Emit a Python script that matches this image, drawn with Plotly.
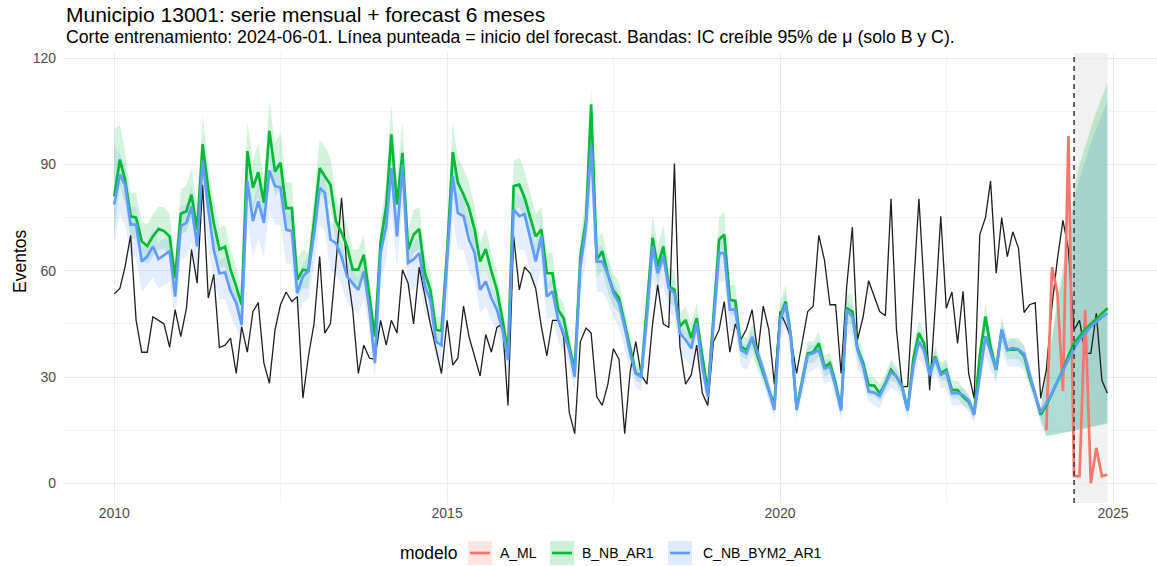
import pandas as pd
import plotly.graph_objects as go

# ---------------- data ----------------
months = pd.date_range("2010-01-01", "2024-12-01", freq="MS")

observed = [
    53.5, 55, 61, 70, 46, 37, 37, 47, 46, 45, 38.4, 49,
    41.4, 49.4, 66, 56.5, 84.3, 52.3, 59, 38.3, 39, 41, 31, 44.2,
    37, 48.5, 51, 33.9, 28.2, 43.3, 50.4, 54, 51.3, 52.7, 24, 35.8,
    45, 64, 42.4, 45, 62, 80.6, 60.3, 49, 31, 39, 35.3, 35,
    46, 39, 46, 42.4, 60.3, 56.5, 45, 61, 53, 45, 38, 31,
    46, 33.4, 35.3, 50, 41.4, 35.8, 30.3, 42, 37, 44, 45, 22,
    69.7, 54.6, 61, 59.3, 55, 44.2, 36, 46, 46, 41.4, 20, 14,
    40, 43.8, 42.4, 24.4, 22, 28, 38, 35, 14, 31.5, 40, 30.6,
    28, 45, 56, 45, 44, 90.3, 38.6, 28, 30.6, 39, 25.4, 22,
    40, 43.3, 51.3, 37, 45, 40.6, 43.5, 49, 36.7, 50, 43.3, 28,
    48.5, 45, 41, 31, 39.5, 48.5, 50, 70, 63, 50.4, 50.4, 31,
    55.6, 72.3, 40.5, 47, 57.2, 52.7, 48.5, 47.3, 80.3, 43.3, 27.3, 27.3,
    53.7, 80.3, 55.6, 26.3, 49.4, 75.4, 49.4, 54, 39.5, 54.2, 31, 24,
    70.2, 75, 85.3, 59.3, 75, 64, 71, 66.4, 48.2, 50.4, 51, 24,
    32, 50, 63, 74.2, 66, 43.3, 46, 36.7, 36.7, 48, 29, 25.4,
]

b_nb_ar1 = [
    81, 91.4, 85.8, 75.4, 75, 68.3, 67, 69.7, 71.8, 71.2, 69.7, 57.9,
    76.1, 76.8, 81.5, 71.6, 95.7, 82.9, 73.5, 66, 66.8, 60.3, 55.6, 50.4,
    93.8, 83.4, 87.8, 79.2, 99.5, 88, 90.5, 77.7, 77.7, 57.5, 60.3, 60,
    74, 89, 86.7, 84.3, 74, 70.7, 66.9, 60.3, 60.3, 64.5, 52.7, 41.4,
    68, 78.2, 98.5, 78.7, 93.3, 66, 70.2, 71.8, 59.3, 54.6, 43.3, 43,
    65, 93.5, 84.8, 81.5, 77.7, 71.6, 62.6, 66.1, 59.8, 54.6, 46.1, 36.7,
    83.9, 84.3, 80.6, 74.9, 69.7, 71.6, 59.3, 59.3, 49, 46.6, 38.6, 32,
    64, 74.4, 107, 63.1, 65.5, 58.9, 54.4, 52.3, 45.2, 37.6, 31, 30.6,
    50, 69.3, 61.2, 66.9, 55.6, 54.6, 44.2, 46.1, 41, 46.6, 35.8, 25.9,
    47, 68.8, 70.2, 51.8, 51.5, 38.6, 37.6, 41, 35.8, 31, 26.3, 22,
    47.1, 51.3, 41.4, 21.1, 29.2, 36.7, 37, 39.5, 32.9, 33.9, 28.2, 21.1,
    49.4, 48.5, 38.1, 34, 27.7, 27.6, 25.4, 28.2, 32, 30.1, 27.3, 20.7,
    35, 42.4, 39.5, 31, 35.8, 31, 32, 26.3, 26.3, 24.4, 23, 19.7,
    36, 47.1, 38.5, 32, 43.3, 37.6, 37.8, 37.7, 36, 30, 25, 19.3,
    22, 25.5, 29, 32, 36, 39.5, 41.5, 43.5, 45, 46.5, 48, 49.4,
]
b_lo = [
    70, 84, 79, 69, 69, 63, 62, 64, 66, 66, 64, 53,
    70, 71, 75, 66, 88, 76, 68, 61, 61, 55, 51, 46,
    86, 77, 81, 73, 92, 81, 83, 71, 71, 53, 55, 55,
    68, 82, 80, 78, 68, 65, 62, 55, 55, 59, 48, 38,
    63, 72, 91, 72, 86, 61, 65, 66, 55, 50, 40, 40,
    60, 86, 78, 75, 71, 66, 58, 61, 55, 50, 42, 34,
    77, 78, 74, 69, 64, 66, 55, 55, 45, 43, 36, 29,
    59, 68, 98, 58, 60, 54, 50, 48, 42, 35, 29, 28,
    46, 64, 56, 62, 51, 50, 41, 42, 38, 43, 33, 24,
    43, 63, 65, 48, 47, 36, 35, 38, 33, 29, 24, 20,
    43, 47, 38, 19, 27, 34, 34, 36, 30, 31, 26, 19,
    45, 45, 35, 31, 25, 25, 23, 26, 29, 28, 25, 19,
    32, 39, 36, 29, 33, 29, 29, 24, 24, 22, 21, 18,
    33, 43, 35, 29, 40, 35, 35, 35, 33, 28, 23, 18,
    13.3, 13.5, 13.8, 14.1, 14.4, 14.8, 15.1, 15.4, 15.8, 16.1, 16.4, 16.8,
]
b_hi = [
    100, 101, 94, 82, 82, 74, 73, 76, 78, 78, 76, 63,
    83, 84, 89, 78, 104, 90, 80, 72, 73, 66, 61, 55,
    102, 91, 96, 86, 108, 96, 99, 85, 85, 63, 66, 65,
    81, 97, 95, 92, 81, 77, 73, 66, 66, 70, 57, 45,
    74, 85, 107, 86, 102, 72, 77, 78, 65, 60, 47, 47,
    71, 102, 92, 89, 85, 78, 68, 72, 65, 60, 50, 40,
    91, 92, 88, 82, 76, 78, 65, 65, 53, 51, 42, 35,
    70, 81, 112, 69, 71, 64, 59, 57, 49, 41, 34, 33,
    55, 76, 67, 73, 61, 60, 48, 50, 45, 51, 39, 28,
    51, 75, 77, 56, 56, 42, 41, 45, 39, 34, 29, 24,
    51, 56, 45, 23, 32, 40, 40, 43, 36, 37, 31, 23,
    54, 53, 42, 37, 30, 30, 28, 31, 35, 33, 30, 23,
    38, 46, 43, 34, 39, 34, 35, 29, 29, 27, 25, 21,
    39, 51, 42, 35, 47, 41, 41, 41, 39, 33, 27, 21,
    31, 42, 52, 61, 71, 83, 90, 95, 100, 105, 109, 113,
]

c_nb_bym2_ar1 = [
    78.7, 87.2, 84.3, 73, 73, 62.6, 64, 66.9, 63.3, 64.5, 65.5, 52.7,
    72.6, 73.5, 78.2, 66.9, 91, 77.3, 66, 59.3, 59.5, 54.2, 50.9, 44.7,
    85.3, 74, 79.6, 73.5, 88.3, 83.9, 83.5, 71.6, 71.2, 53.7, 58.4, 60,
    70, 83.4, 82, 68.8, 67.8, 64, 58.4, 56.5, 54.6, 59.8, 49, 33.9,
    65, 72.6, 89, 69.7, 90, 62.2, 63.2, 65, 55.6, 51.8, 40, 39,
    62, 86.7, 76.3, 75.4, 68.8, 65, 54.6, 57, 52.3, 49, 43.3, 34.8,
    77.3, 75.4, 76, 68.8, 62.6, 69.7, 52.7, 54.2, 46.1, 42.4, 37.6, 30.1,
    61.2, 72.6, 95.2, 62.6, 62.6, 59, 53.7, 50.9, 44.2, 36.7, 31, 30.1,
    47, 66.9, 59.3, 64, 55.1, 53.7, 42.4, 40.5, 38.1, 45.2, 32.9, 24.4,
    45.2, 65, 65, 49, 49, 37.6, 36.7, 41.4, 36.7, 32, 26.3, 20.7,
    46.1, 50.4, 41, 20.7, 28.2, 36.2, 36.7, 37.6, 32.4, 32.9, 27.3, 20.5,
    49, 47, 37.6, 33, 25.9, 25.6, 24.7, 28.2, 31.4, 30.2, 27.2, 20.5,
    33, 40.1, 37.5, 30.5, 35.4, 30.6, 31.4, 25.4, 25.5, 24.9, 23.5, 19.3,
    31, 41.5, 37, 32, 43.4, 37.7, 38.2, 37.8, 36.5, 30.5, 25, 20,
    22.5, 25.5, 28.8, 31.8, 35, 38, 40.5, 42.5, 44.2, 45.6, 46.8, 48,
]
c_lo = [
    68, 76, 73, 64, 64, 54, 56, 58, 55, 56, 57, 46,
    63, 64, 68, 58, 79, 67, 57, 52, 52, 47, 44, 39,
    74, 64, 69, 64, 77, 73, 73, 62, 62, 47, 51, 52,
    61, 73, 71, 60, 59, 56, 51, 49, 48, 52, 43, 29,
    57, 63, 77, 61, 78, 54, 55, 57, 48, 45, 35, 34,
    54, 75, 66, 66, 60, 57, 48, 50, 46, 43, 38, 30,
    67, 66, 66, 60, 54, 61, 46, 47, 40, 37, 33, 26,
    53, 63, 83, 54, 54, 51, 47, 44, 38, 32, 27, 26,
    41, 58, 52, 56, 48, 47, 37, 35, 33, 39, 29, 21,
    39, 57, 57, 43, 43, 33, 32, 36, 32, 28, 23, 18,
    40, 44, 36, 18, 25, 31, 32, 33, 28, 29, 24, 18,
    43, 41, 33, 29, 23, 22, 21, 25, 27, 26, 24, 18,
    29, 35, 33, 27, 31, 27, 27, 22, 22, 22, 20, 17,
    27, 36, 32, 28, 38, 33, 33, 33, 32, 27, 22, 17,
    13.6, 13.8, 14, 14.3, 14.6, 15, 15.3, 15.6, 16, 16.3, 16.6, 17,
]
c_hi = [
    95, 93, 90, 78, 78, 67, 68, 72, 68, 69, 70, 56,
    78, 79, 84, 72, 97, 83, 71, 63, 64, 58, 54, 48,
    91, 79, 85, 79, 94, 90, 89, 77, 76, 57, 62, 64,
    75, 89, 88, 74, 73, 68, 62, 60, 58, 64, 52, 36,
    70, 78, 95, 75, 96, 67, 68, 70, 59, 55, 43, 42,
    66, 93, 82, 81, 74, 70, 58, 61, 56, 52, 46, 37,
    83, 81, 81, 74, 67, 75, 56, 58, 49, 45, 40, 32,
    65, 78, 102, 67, 67, 63, 57, 54, 47, 39, 33, 32,
    50, 72, 63, 68, 59, 57, 45, 43, 41, 48, 35, 26,
    48, 70, 70, 52, 52, 40, 39, 44, 39, 34, 28, 22,
    49, 54, 44, 22, 30, 39, 39, 40, 35, 35, 29, 22,
    52, 50, 40, 35, 28, 27, 26, 30, 34, 32, 29, 22,
    35, 43, 40, 33, 38, 33, 34, 27, 27, 27, 25, 21,
    33, 44, 40, 34, 46, 40, 41, 40, 39, 33, 27, 21,
    30, 40, 50, 59, 68, 80, 86, 91, 96, 100, 104, 108,
]

a_months = pd.date_range("2024-01-01", "2024-12-01", freq="MS")
a_ml = [15, 61, 54, 26, 98, 2, 2, 49, 0, 10, 2, 2.5]

forecast_start = "2024-06-01"
forecast_end = "2024-12-01"
split = 167  # last fitted month before the wide band (2023-12)

# ---------------- styling ----------------
FONT = "Liberation Sans, Arial, Helvetica, sans-serif"
COL_A = "#F8766D"
COL_B = "#00BA38"
COL_C = "#619CFF"
W, H = 1157, 566
ML, MR, MT, MB = 63, 0, 53, 63
PW, PH = W - ML - MR, H - MT - MB


def px(x):
    return (x - ML) / PW


def py(y):
    return (H - MB - y) / PH


fig = go.Figure()


def band(x, lo, hi, color):
    fig.add_trace(go.Scatter(x=x, y=lo, mode="lines", line=dict(width=0),
                             hoverinfo="skip", showlegend=False))
    fig.add_trace(go.Scatter(x=x, y=hi, mode="lines", line=dict(width=0),
                             fill="tonexty", fillcolor=color,
                             hoverinfo="skip", showlegend=False))


tr = slice(0, split + 1)
fc = slice(split, len(months))
band(months[tr], b_lo[tr], b_hi[tr], "rgba(0,186,56,0.17)")
band(months[tr], c_lo[tr], c_hi[tr], "rgba(97,156,255,0.17)")
band(months[fc], b_lo[fc], b_hi[fc], "rgba(0,186,56,0.21)")
band(months[fc], c_lo[fc], c_hi[fc], "rgba(90,160,215,0.24)")

fig.add_trace(go.Scatter(x=months, y=observed, mode="lines",
                         line=dict(color="#1f1f1f", width=1.3),
                         showlegend=False, name="observado"))
fig.add_trace(go.Scatter(x=a_months, y=a_ml, mode="lines",
                         line=dict(color=COL_A, width=2.7),
                         showlegend=False, name="A_ML"))
fig.add_trace(go.Scatter(x=months, y=b_nb_ar1, mode="lines",
                         line=dict(color=COL_B, width=2.7),
                         showlegend=False, name="B_NB_AR1"))
fig.add_trace(go.Scatter(x=months, y=c_nb_bym2_ar1, mode="lines",
                         line=dict(color=COL_C, width=2.7),
                         showlegend=False, name="C_NB_BYM2_AR1"))

shapes = [
    dict(type="rect", xref="x", yref="paper", x0=forecast_start, x1=forecast_end,
         y0=0, y1=1, fillcolor="rgba(190,190,190,0.22)", line=dict(width=0),
         layer="between"),
    dict(type="line", xref="x", yref="paper", x0=forecast_start, x1=forecast_start,
         y0=0, y1=1, line=dict(color="#444444", width=1.6, dash="5px,4px"),
         layer="above"),
]

annotations = [
    dict(text="Municipio 13001: serie mensual + forecast 6 meses",
         xref="paper", yref="paper", x=px(64), y=py(15), xanchor="left",
         yanchor="middle", showarrow=False,
         font=dict(family=FONT, size=21, color="black")),
    dict(text="Corte entrenamiento: 2024-06-01. Línea punteada = inicio del forecast. "
              "Bandas: IC creíble 95% de μ (solo B y C).",
         xref="paper", yref="paper", x=px(64), y=py(37), xanchor="left",
         yanchor="middle", showarrow=False,
         font=dict(family=FONT, size=17.7, color="black")),
    dict(text="Eventos", xref="paper", yref="paper", x=px(20), y=py(262),
         xanchor="center", yanchor="middle", textangle=-90, showarrow=False,
         font=dict(family=FONT, size=17.5, color="black")),
    dict(text="modelo", xref="paper", yref="paper", x=px(398), y=py(553),
         xanchor="left", yanchor="middle", showarrow=False,
         font=dict(family=FONT, size=17.5, color="black")),
]

legend_items = [
    ("A_ML", COL_A, "rgba(248,118,109,0.2)", 468, 498),
    ("B_NB_AR1", COL_B, "rgba(0,186,56,0.2)", 550, 580),
    ("C_NB_BYM2_AR1", COL_C, "rgba(97,156,255,0.2)", 668, 701),
]
for label, col, bg, kx, tx in legend_items:
    shapes.append(dict(type="rect", xref="paper", yref="paper",
                       x0=px(kx), x1=px(kx + 24), y0=py(541), y1=py(565),
                       fillcolor=bg, line=dict(width=0), layer="above"))
    shapes.append(dict(type="line", xref="paper", yref="paper",
                       x0=px(kx + 2), x1=px(kx + 22), y0=py(553), y1=py(553),
                       line=dict(color=col, width=2.7), layer="above"))
    annotations.append(dict(text=label, xref="paper", yref="paper", x=px(tx),
                            y=py(553), xanchor="left", yanchor="middle",
                            showarrow=False,
                            font=dict(family=FONT, size=14, color="black")))

fig.update_layout(
    width=W, height=H,
    margin=dict(l=ML, r=MR, t=MT, b=MB, pad=0),
    paper_bgcolor="white", plot_bgcolor="white",
    font=dict(family=FONT, color="black"),
    showlegend=False,
    shapes=shapes, annotations=annotations,
    xaxis=dict(
        type="date", range=["2009-03-26", "2025-08-30"],
        tickmode="array",
        tickvals=["2010-01-01", "2015-01-01", "2020-01-01", "2025-01-01"],
        ticktext=["2010", "2015", "2020", "2025"],
        showgrid=True, gridcolor="#EBEBEB", gridwidth=1.1,
        minor=dict(tickmode="array",
                   tickvals=["2012-07-02", "2017-07-02", "2022-07-02"],
                   showgrid=True, gridcolor="#F4F4F4", gridwidth=0.7),
        zeroline=False, showline=False, ticks="",
        tickfont=dict(family=FONT, size=14, color="#4D4D4D"),
        ticklabelstandoff=0,
    ),
    yaxis=dict(
        range=[-5.56, 121.47],
        tickmode="array", tickvals=[0, 30, 60, 90, 120],
        showgrid=True, gridcolor="#EBEBEB", gridwidth=1.1,
        minor=dict(tickmode="array", tickvals=[15, 45, 75, 105],
                   showgrid=True, gridcolor="#F4F4F4", gridwidth=0.7),
        zeroline=False, showline=False, ticks="",
        tickfont=dict(family=FONT, size=14, color="#4D4D4D"),
        ticklabelstandoff=6,
    ),
)

fig.write_html("out.html")
